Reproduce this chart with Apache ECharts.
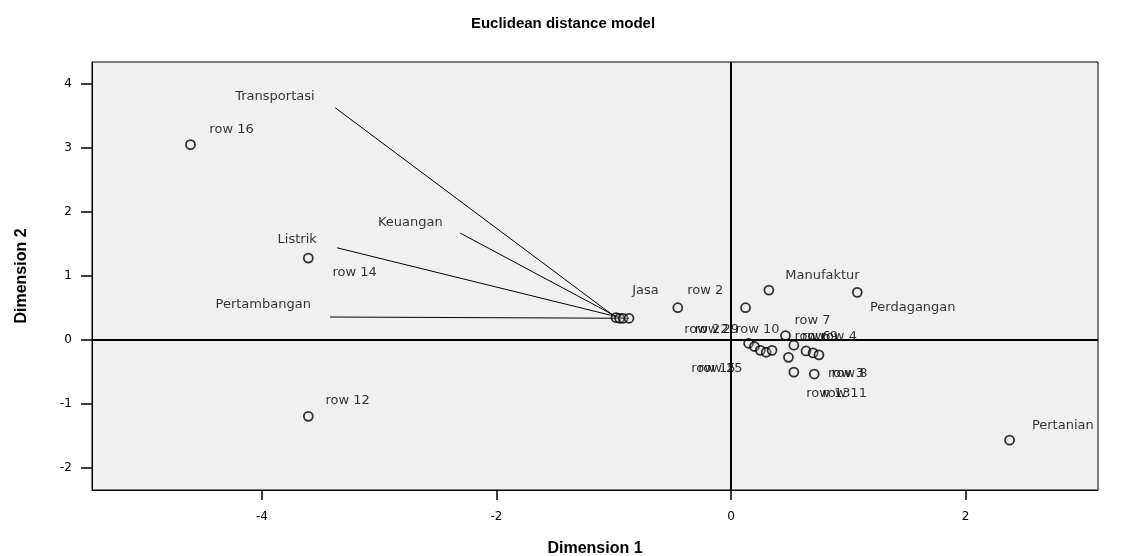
<!DOCTYPE html>
<html><head><meta charset="utf-8">
<script src="https://cdn.jsdelivr.net/npm/echarts@6/dist/echarts.min.js"></script>
<style>html,body{margin:0;padding:0;background:#fff}#c{width:1126px;height:556px}</style>
</head><body><div id="c"></div>
<script>
// Stimulus points (sectors)
const sectorNames = ["Transportasi","Keuangan","Listrik","Pertambangan","Jasa","Manufaktur","Perdagangan","Pertanian"];
const sectorX = [-0.98,-0.95,-0.92,-0.87,-0.454,0.323,1.077,2.376];
const sectorY = [0.35,0.34,0.34,0.34,0.505,0.78,0.745,-1.5625];
// label anchor positions (data units)
const sectorLabelX = [-3.89,-2.735,-3.70,-3.99,-0.73,0.78,1.55,2.83];
const sectorLabelY = [3.80,1.84,1.56,0.55,0.77,1.00,0.50,-1.33];
// leader lines (label end -> point), for displaced labels
const leaderFrom = {"Transportasi":[-3.375,3.625],"Keuangan":[-2.31,1.67],"Listrik":[-3.36,1.44],"Pertambangan":[-3.42,0.36]};

// Subject points (rows)
const rowNames = ["row 16","row 14","row 12","row 2","row 22","row 29","row 10","row 7","row 6","row 9","row 4","row 15","row 25","row 8","row 3","row 11","row 13"];
const rowX = [-4.61,-3.605,-3.605,0.124,0.15,0.20,0.465,0.536,0.64,0.70,0.75,0.25,0.30,0.71,0.536,0.49,0.35];
const rowY = [3.05,1.28,-1.19,0.505,-0.05,-0.10,0.07,-0.08,-0.17,-0.20,-0.23,-0.16,-0.19,-0.53,-0.50,-0.27,-0.16];
const rowLabelX = [-4.26,-3.21,-3.27,-0.22,-0.21,-0.12,0.225,0.695,0.695,0.76,0.92,-0.15,-0.09,1.01,0.98,0.97,0.83];
const rowLabelY = [3.28,1.05,-0.94,0.77,0.16,0.16,0.16,0.31,0.06,0.06,0.06,-0.44,-0.44,-0.52,-0.52,-0.83,-0.83];

const xTicks = [-4,-2,0,2];
const yTicks = [-2,-1,0,1,2,3,4];

const chart = echarts.init(document.getElementById('c'));
const font = "DejaVu Sans";
const pts = [];
sectorNames.forEach((n,i)=>pts.push({name:n,value:[sectorX[i],sectorY[i]]}));
rowNames.forEach((n,i)=>pts.push({name:n,value:[rowX[i],rowY[i]]}));
const labs = [];
sectorNames.forEach((n,i)=>labs.push({name:n,value:[sectorLabelX[i],sectorLabelY[i]]}));
rowNames.forEach((n,i)=>labs.push({name:n,value:[rowLabelX[i],rowLabelY[i]]}));
const leaders = Object.keys(leaderFrom).map(n=>{
  const i = sectorNames.indexOf(n);
  return {coords:[leaderFrom[n],[sectorX[i],sectorY[i]]]};
});

chart.setOption({
  animation:false,
  backgroundColor:'#ffffff',
  title:{text:'Euclidean distance model',left:'center',top:11,
    textStyle:{fontFamily:'Liberation Sans',fontWeight:'bold',fontSize:15,color:'#000'}},
  grid:{left:92,right:28,top:62,bottom:66,outerBoundsMode:'none',containLabel:false,
    show:true,backgroundColor:'#f0f0f0',borderColor:'#000',borderWidth:1},
  xAxis:{type:'value',min:-5.45,max:3.13,
    name:'Dimension 1',nameLocation:'middle',nameGap:51,
    nameTextStyle:{fontFamily:'Liberation Sans',fontWeight:'bold',fontSize:16,color:'#000'},
    axisLine:{show:true,onZero:false,lineStyle:{color:'#000',width:1}},
    axisTick:{show:true,length:10,customValues:xTicks,lineStyle:{color:'#000',width:1.5}},
    axisLabel:{customValues:xTicks,margin:21,fontFamily:font,fontSize:12,color:'#000'},
    splitLine:{show:false}},
  yAxis:{type:'value',min:-2.34,max:4.34,
    name:'Dimension 2',nameLocation:'middle',nameGap:62,nameRotate:90,
    nameTextStyle:{fontFamily:'Liberation Sans',fontWeight:'bold',fontSize:16,color:'#000'},
    axisLine:{show:true,onZero:false,lineStyle:{color:'#000',width:1}},
    axisTick:{show:true,length:11,customValues:yTicks,lineStyle:{color:'#000',width:1.5}},
    axisLabel:{customValues:yTicks,margin:20,fontFamily:font,fontSize:12,color:'#000'},
    splitLine:{show:false}},
  series:[
    {type:'scatter',data:[],silent:true,
      markLine:{silent:true,symbol:['none','none'],label:{show:false},
        lineStyle:{color:'#000',width:2,type:'solid'},
        data:[{xAxis:0},{yAxis:0}]}},
    {type:'lines',coordinateSystem:'cartesian2d',silent:true,
      lineStyle:{color:'#000',width:1,opacity:1},data:leaders},
    {type:'scatter',data:pts,symbol:'circle',symbolSize:9,silent:true,
      itemStyle:{color:'rgba(240,240,240,0.3)',borderColor:'#000',borderWidth:1.8}},
    {type:'scatter',data:labs,symbolSize:0,silent:true,
      label:{show:true,position:'inside',formatter:p=>p.name,fontFamily:font,fontSize:13,color:'#000'}}
  ]
});
</script></body></html>
